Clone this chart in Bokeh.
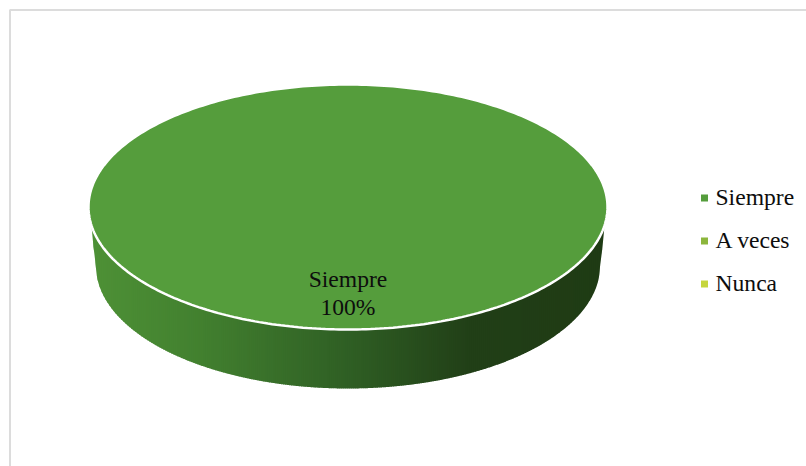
import numpy as np
from bokeh.core.properties import value
from bokeh.embed import file_html
from bokeh.models import Range1d
from bokeh.plotting import figure
from bokeh.resources import INLINE

# Survey answers and their share of responses
categories = ["Siempre", "A veces", "Nunca"]
shares = [100, 0, 0]
slice_colors = ["#559d3c", "#8cb63c", "#c6d63d"]

WIDTH, HEIGHT = 806, 466
FONT = value("Liberation Serif")

# Tilted-disc geometry, in page pixels
CX, CY = 347.5, 206.5
RX, RY = 259.5, 122.5
DEPTH = 59.0
BASE_RX = 252.0

# Shading of the disc's wall from its left end to its right end
WALL_STOPS_X = [89, 200, 347, 470, 606]
WALL_STOPS_RGB = [(78, 145, 54), (66, 128, 47), (47, 95, 36), (33, 63, 23), (31, 59, 20)]

p = figure(
    width=WIDTH, height=HEIGHT, output_backend="svg", toolbar_location=None,
    x_range=Range1d(0, WIDTH), y_range=Range1d(HEIGHT, 0),
    min_border=0, outline_line_color=None, background_fill_color="white",
    border_fill_color="white",
)
p.axis.visible = False
p.grid.visible = False

# Chart-area frame, open towards the page's right and bottom edges
p.line([WIDTH, 9.5, 9.5], [9.5, 9.5, HEIGHT], line_color="#dcdcdc", line_width=2)


def top_lower_y(x):
    t = np.clip((x - CX) / RX, -1, 1)
    return CY + RY * np.sqrt(1 - t ** 2)


def base_y(x):
    # Wall ends taper slightly inwards above the base ellipse's widest point
    t = np.clip((x - CX) / BASE_RX, -1, 1)
    y = CY + DEPTH + RY * np.sqrt(1 - t ** 2)
    beyond = np.abs(x - CX) > BASE_RX
    reach = (np.abs(x - CX) - BASE_RX) / (RX - 3 - BASE_RX)
    return np.where(beyond, (CY + DEPTH) + (top_lower_y(x) - (CY + DEPTH)) * reach, y)


# Wall of the disc as narrow vertical strips carrying the horizontal shading
edges = np.arange(CX - RX + 3, CX + RX - 2, 2.0)
xs, ys, colors = [], [], []
for a, b in zip(edges[:-1], edges[1:]):
    col = np.linspace(a, b + 0.6, 5)
    xs.append(np.r_[col, col[::-1]])
    ys.append(np.r_[top_lower_y(col) - 2, base_y(col)[::-1]])
    rgb = [np.interp((a + b) / 2, WALL_STOPS_X, [c[i] for c in WALL_STOPS_RGB]) for i in range(3)]
    colors.append("#%02x%02x%02x" % tuple(int(round(v)) for v in rgb))
p.patches(xs, ys, fill_color=colors, line_color=None)

# Top face: one sector per category, sized by its share
total = sum(shares)
start = -np.pi / 2
for name, share, color in zip(categories, shares, slice_colors):
    if share == 0:
        continue
    sweep = 2 * np.pi * share / total
    ang = np.linspace(start, start + sweep, 361)
    p.patch(CX + RX * np.cos(ang), CY + RY * np.sin(ang), fill_color=color,
            line_color="white", line_width=2.5)
    p.text([CX], [CY + 72], text=[name], text_font=FONT, text_font_size="23.6px",
           text_color="#0d0d0d", text_align="center", text_baseline="middle")
    p.text([CX], [CY + 100], text=[f"{share}%"], text_font=FONT, text_font_size="23.6px",
           text_color="#0d0d0d", text_align="center", text_baseline="middle")
    start += sweep

# Legend
legend_y = [197.5, 240.5, 283.5]
p.rect([704] * 3, legend_y, width=7, height=7, fill_color=slice_colors, line_color=None)
p.text([715] * 3, [y - 1 for y in legend_y], text=categories, text_font=FONT, text_font_size="23.6px",
       text_color="#0d0d0d", text_align="left", text_baseline="middle")

open("out.html", "w").write(file_html(p, INLINE))
